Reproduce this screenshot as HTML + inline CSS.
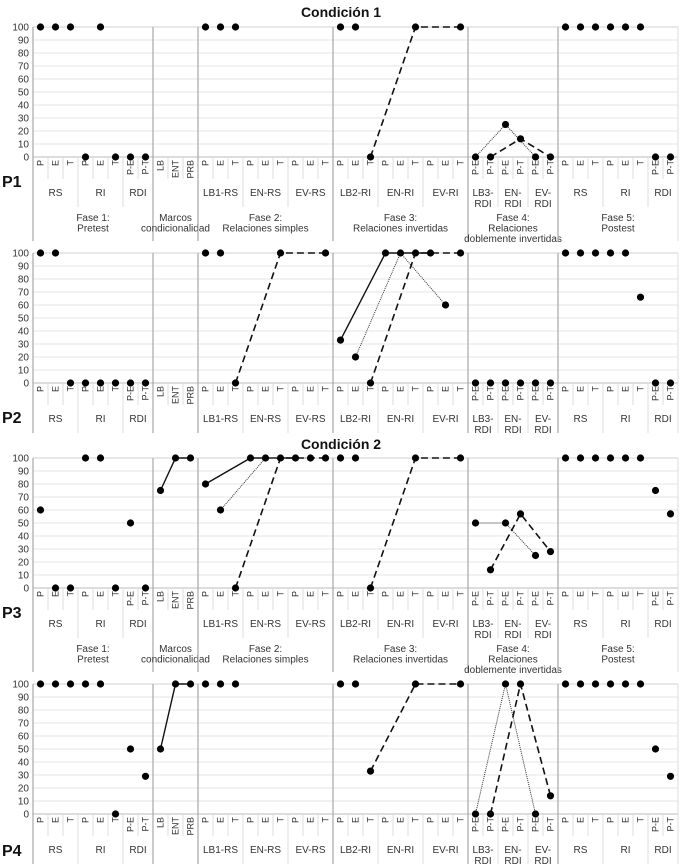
<!DOCTYPE html>
<html><head><meta charset="utf-8">
<style>
body{margin:0;background:#fff;}
svg{display:block;font-family:"Liberation Sans",sans-serif;}
</style></head>
<body>
<svg id="chart" width="683" height="866" viewBox="0 0 683 866" xmlns="http://www.w3.org/2000/svg">
<text x="341" y="17" text-anchor="middle" font-size="14" font-weight="bold" fill="#111">Condición 1</text>
<text x="341" y="449" text-anchor="middle" font-size="14" font-weight="bold" fill="#111">Condición 2</text>
</svg>
<script>
const n = null;
const catLabels = ["P","E","T","P","E","T","P-E","P-T","LB","ENT","PRB","P","E","T","P","E","T","P","E","T","P","E","T","P","E","T","P","E","T","P-E","P-T","P-E","P-T","P-E","P-T","P","E","T","P","E","T","P-E","P-T"];
const groups = [[0,3,["RS"]],[3,3,["RI"]],[6,2,["RDI"]],[8,3,[]],[11,3,["LB1-RS"]],[14,3,["EN-RS"]],[17,3,["EV-RS"]],[20,3,["LB2-RI"]],[23,3,["EN-RI"]],[26,3,["EV-RI"]],[29,2,["LB3-","RDI"]],[31,2,["EN-","RDI"]],[33,2,["EV-","RDI"]],[35,3,["RS"]],[38,3,["RI"]],[41,2,["RDI"]]];
const phases = [[0,8,["Fase 1:","Pretest"]],[8,3,["Marcos","condicionalidad"]],[11,9,["Fase 2:","Relaciones simples"]],[20,9,["Fase 3:","Relaciones invertidas"]],[29,6,["Fase 4:","Relaciones","doblemente invertidas"]],[35,8,["Fase 5:","Postest"]]];
const yTicks = [0,10,20,30,40,50,60,70,80,90,100];
const panelNames = ["P1","P2","P3","P4"];
const valuesP1 = [100,100,100,0,100,0,0,0,n,n,n,100,100,100,n,n,n,n,n,n,100,100,0,n,n,100,n,n,100,0,0,25,14,0,0,100,100,100,100,100,100,0,0];
const valuesP2 = [100,100,0,0,0,0,0,0,n,n,n,100,100,0,n,n,100,n,n,100,33,20,0,100,100,100,100,60,100,0,0,0,0,0,0,100,100,100,100,100,66,0,0];
const valuesP3 = [60,0,0,100,100,0,50,0,75,100,100,80,60,0,100,100,100,100,100,100,100,100,0,n,n,100,n,n,100,50,14,50,57,25,28,100,100,100,100,100,100,75,57];
const valuesP4 = [100,100,100,100,100,0,50,29,50,100,100,100,100,100,n,n,n,n,n,n,100,100,33,n,n,100,n,n,100,0,0,100,100,0,14,100,100,100,100,100,100,50,29];
const linesP1 = [["dashed",[22,25,28]],["dotted",[29,31,33]],["dashed",[30,32,34]]];
const linesP2 = [["dashed",[13,16,19]],["solid",[20,23,26]],["dotted",[21,24,27]],["dashed",[22,25,28]]];
const linesP3 = [["solid",[8,9,10]],["solid",[11,14,17]],["dotted",[12,15,18]],["dashed",[13,16,19]],["dashed",[22,25,28]],["dotted",[29,31,33]],["dashed",[30,32,34]]];
const linesP4 = [["solid",[8,9,10]],["dashed",[22,25,28]],["dotted",[29,31,33]],["dashed",[30,32,34]]];

const panelValues=[valuesP1,valuesP2,valuesP3,valuesP4];
const panelLines=[linesP1,linesP2,linesP3,linesP4];
const panelTops=[27,253,458,684];
const showPhase=[true,false,true,false];
const labelDy=[30,40,30,42];
const L=33, STEP=15, H=130, R=L+STEP*catLabels.length;
const svg=document.getElementById('chart');
const NS="http://www.w3.org/2000/svg";
function mk(tag,attrs,parent){const e=document.createElementNS(NS,tag);for(const k in attrs)e.setAttribute(k,attrs[k]);(parent||svg).appendChild(e);return e;}
function xc(i){return L+STEP*(i+0.5);}
function xe(i){return L+STEP*i;}

panelNames.forEach((pn,p)=>{
  const top=panelTops[p], y0=top+H;
  const ys=v=>y0-v/100*H;
  const g=mk('g',{});
  
  
  const bottom = showPhase[p]? top+214 : top+180;
  yTicks.forEach(t=>{
    const ln=mk('line',{x1:L,x2:R,y1:ys(t),y2:ys(t),stroke:t===100?'#d0d0d0':'#e6e6e6','stroke-width':1},g);
    
    
    const tx=mk('text',{x:L-4,y:ys(t)+3.5,'text-anchor':'end','font-size':10,fill:'#333'},g);
    
    
    tx.textContent=t;
  });
  mk('line',{x1:L,x2:R,y1:y0,y2:y0,stroke:'#bbb','stroke-width':1},g);
  mk('line',{x1:R,x2:R,y1:top,y2:bottom,stroke:'#ddd','stroke-width':1},g);
  catLabels.forEach((c,i)=>{
    if(i>0) mk('line',{x1:xe(i),x2:xe(i),y1:y0,y2:y0+22,stroke:'#ddd','stroke-width':1},g);
    const tx=mk('text',{x:0,y:0,'text-anchor':'end','font-size':9,fill:'#333',transform:`translate(${xc(i)+3},${y0+3}) rotate(-90)`},g);
    
    
    tx.textContent=c;
  });
  groups.forEach(([s,c,lines])=>{
    if(s>0) mk('line',{x1:xe(s),x2:xe(s),y1:y0,y2:y0+50,stroke:'#ddd','stroke-width':1},g);
    lines.forEach((t,k)=>{
      const tx=mk('text',{x:(xe(s)+xe(s+c))/2,y:y0+39+k*11,'text-anchor':'middle','font-size':10,fill:'#333'},g);
      
      
      tx.textContent=t;
    });
  });
  phases.forEach(([s,c,lines])=>{
    mk('line',{x1:xe(s),x2:xe(s),y1:top,y2:bottom,stroke:'#a8a8a8','stroke-width':1.2},g);
    if(showPhase[p]) lines.forEach((t,k)=>{
      const tx=mk('text',{x:(xe(s)+xe(s+c))/2,y:y0+64+k*10.5,'text-anchor':'middle','font-size':10,fill:'#333'},g);
      
      
      tx.textContent=t;
    });
  });
  const pl=mk('text',{x:2,y:y0+labelDy[p],'font-size':16,'font-weight':'bold',fill:'#111'},g);
  
  
  pl.textContent=pn;
  const vals=panelValues[p];
  panelLines[p].forEach(([style,idx])=>{
    const pts=idx.filter(i=>vals[i]!==null).map(i=>xc(i)+','+ys(vals[i])).join(' ');
    const a={points:pts,fill:'none',stroke:'#111'};
    if(style==='solid'){a['stroke-width']=1.4;}
    else if(style==='dashed'){a['stroke-width']=1.6;a['stroke-dasharray']='7,4';}
    else {a['stroke-width']=1;a['stroke-dasharray']='1,1';a.stroke='#333';}
    const pe=mk('polyline',a,g);
    
    
  });
  vals.forEach((v,i)=>{
    if(v===null) return;
    const d=mk('circle',{cx:xc(i),cy:ys(v),r:3.6,fill:'#000'},g);
    
    
  });
});
</script>
</body></html>
